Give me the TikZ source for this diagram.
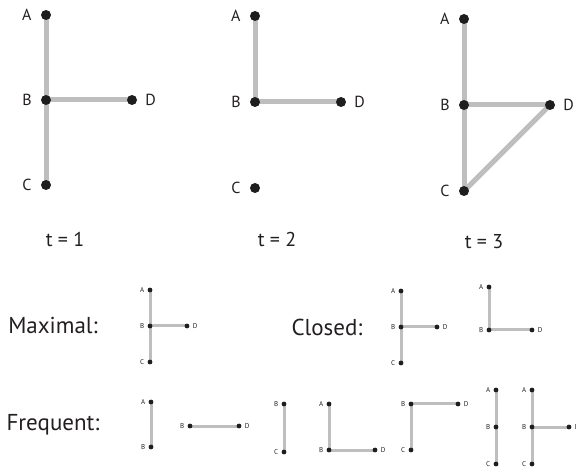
\documentclass[tikz,border=0pt]{standalone}
\usepackage{fontspec}
\setmainfont{PT Sans}
\usetikzlibrary{backgrounds}
\definecolor{edgegray}{RGB}{190,190,190}
\definecolor{dotblack}{RGB}{30,30,30}
\definecolor{txt}{RGB}{35,31,32}
\tikzset{
  bigdot/.style={circle,fill=dotblack,inner sep=0pt,minimum size=10pt},
  smalldot/.style={circle,fill=dotblack,inner sep=0pt,minimum size=4.8pt},
  bigedge/.style={draw=edgegray,line width=5pt},
  smalledge/.style={draw=edgegray,line width=3pt},
  biglab/.style={font=\fontsize{16}{16}\selectfont,inner sep=1pt,text=txt},
  smalllab/.style={font=\fontsize{7}{7}\selectfont,inner sep=0.5pt,text=txt},
  bl/.style={label={[biglab,xshift=-8pt]left:#1}},
  br/.style={label={[biglab,xshift=7pt]right:#1}},
  sl/.style={label={[smalllab,xshift=-2.5pt]left:#1}},
  sr/.style={label={[smalllab,xshift=2.5pt]right:#1}},
  tlab/.style={font=\fontsize{20}{20}\selectfont,inner sep=0pt,text=txt},
  rowlab/.style={font=\fontsize{23}{23}\selectfont,inner sep=0pt,text=txt}
}
\begin{document}
\begin{tikzpicture}[x=1pt,y=-1pt]
\useasboundingbox (0,0) rectangle (576,470);
% ---------- t = 1
\node[bigdot,bl=A] (A1) at (46,15) {};
\node[bigdot,bl=B] (B1) at (46,100) {};
\node[bigdot,br=D] (D1) at (132,100) {};
\node[bigdot,bl=C] (C1) at (46,185) {};
\node[tlab] (T1) at (65,240) {t = 1};
% ---------- t = 2
\node[bigdot,bl=A] (A2) at (255,16) {};
\node[bigdot,bl=B] (B2) at (255,102) {};
\node[bigdot,br=D] (D2) at (341,102) {};
\node[bigdot,bl=C] (C2) at (255,188) {};
\node[tlab] (T2) at (277,240) {t = 2};
% ---------- t = 3
\node[bigdot,bl=A] (A3) at (464,19) {};
\node[bigdot,bl=B] (B3) at (464,105) {};
\node[bigdot,br=D] (D3) at (550,105) {};
\node[bigdot,bl=C] (C3) at (464,191) {};
\node[tlab] (T3) at (484,242) {t = 3};
% ---------- Maximal
\node[rowlab] (LM) at (53,325) {Maximal:};
\node[smalldot,sl=A] (MA) at (150,290) {};
\node[smalldot,sl=B] (MB) at (150,326) {};
\node[smalldot,sr=D] (MD) at (187,326) {};
\node[smalldot,sl=C] (MC) at (150,362) {};
% ---------- Closed
\node[rowlab] (LC) at (327,327) {Closed:};
\node[smalldot,sl=A] (CA1) at (401,291) {};
\node[smalldot,sl=B] (CB1) at (401,327) {};
\node[smalldot,sr=D] (CD1) at (437,327) {};
\node[smalldot,sl=C] (CC1) at (401,363) {};
\node[smalldot,sl=A] (CA2) at (489,287) {};
\node[smalldot,sl=B] (CB2) at (489,330) {};
\node[smalldot,sr=D] (CD2) at (532,330) {};
% ---------- Frequent
\node[rowlab] (LF) at (53,425) {Frequent:};
\node[smalldot,sl=A] (FA1) at (151,402) {};
\node[smalldot,sl=B] (FB1) at (151,447) {};
\node[smalldot,sl=B] (FB2) at (190,426) {};
\node[smalldot,sr=D] (FD2) at (239,426) {};
\node[smalldot,sl=B] (FB3) at (284,404) {};
\node[smalldot,sl=C] (FC3) at (284,452) {};
\node[smalldot,sl=A] (FA4) at (329,404) {};
\node[smalldot,sl=B] (FB4) at (329,450) {};
\node[smalldot,sr=D] (FD4) at (375,450) {};
\node[smalldot,sl=B] (FB5) at (411,404) {};
\node[smalldot,sr=D] (FD5) at (458,404) {};
\node[smalldot,sl=C] (FC5) at (411,450) {};
\node[smalldot,sl=A] (FA6) at (496,390) {};
\node[smalldot,sl=B] (FB6) at (496,427) {};
\node[smalldot,sl=C] (FC6) at (496,464) {};
\node[smalldot,sl=A] (FA7) at (532,390) {};
\node[smalldot,sl=B] (FB7) at (532,427) {};
\node[smalldot,sr=D] (FD7) at (569,427) {};
\node[smalldot,sl=C] (FC7) at (532,464) {};
% ---------- edges (behind dots)
\begin{pgfonlayer}{background}
\draw[bigedge] (A1.center) -- (B1.center) -- (C1.center);
\draw[bigedge] (B1.center) -- (D1.center);
\draw[bigedge] (A2.center) -- (B2.center) -- (D2.center);
\draw[bigedge] (A3.center) -- (B3.center) -- (C3.center);
\draw[bigedge] (B3.center) -- (D3.center);
\draw[bigedge] (C3.center) -- (D3.center);
\draw[smalledge] (MA.center) -- (MB.center) -- (MC.center);
\draw[smalledge] (MB.center) -- (MD.center);
\draw[smalledge] (CA1.center) -- (CB1.center) -- (CC1.center);
\draw[smalledge] (CB1.center) -- (CD1.center);
\draw[smalledge] (CA2.center) -- (CB2.center) -- (CD2.center);
\draw[smalledge] (FA1.center) -- (FB1.center);
\draw[smalledge] (FB2.center) -- (FD2.center);
\draw[smalledge] (FB3.center) -- (FC3.center);
\draw[smalledge] (FA4.center) -- (FB4.center) -- (FD4.center);
\draw[smalledge] (FD5.center) -- (FB5.center) -- (FC5.center);
\draw[smalledge] (FA6.center) -- (FB6.center) -- (FC6.center);
\draw[smalledge] (FA7.center) -- (FB7.center) -- (FC7.center);
\draw[smalledge] (FB7.center) -- (FD7.center);
\end{pgfonlayer}
\end{tikzpicture}
\end{document}
